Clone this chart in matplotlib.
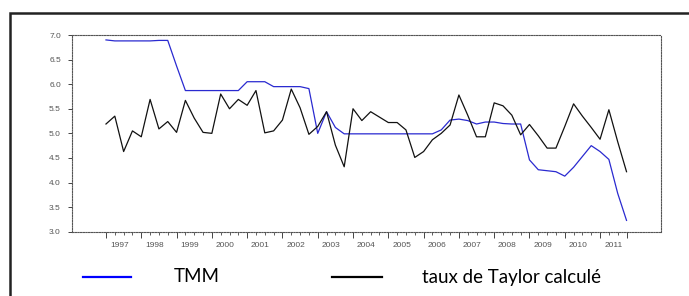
import numpy as np
import matplotlib.pyplot as plt
from matplotlib.patches import Rectangle

# données trimestrielles 1997T1 - 2011T4
start_year = 1997
tmm = [6.90, 6.88, 6.88, 6.88, 6.88, 6.88, 6.89, 6.89,
       6.37, 5.87, 5.87, 5.87, 5.87, 5.87, 5.87, 5.87,
       6.05, 6.05, 6.05, 5.95, 5.95, 5.95, 5.95, 5.91,
       5.00, 5.44, 5.12, 4.99, 4.99, 4.99, 4.99, 4.99,
       4.99, 4.99, 4.99, 4.99, 4.99, 4.99, 5.07, 5.27,
       5.29, 5.26, 5.19, 5.23, 5.23, 5.20, 5.19, 5.19,
       4.46, 4.26, 4.24, 4.22, 4.13, 4.31, 4.53, 4.75,
       4.63, 4.47, 3.78, 3.23]
taylor = [5.19, 5.35, 4.63, 5.05, 4.93, 5.69, 5.09, 5.24,
          5.02, 5.67, 5.31, 5.02, 5.00, 5.80, 5.50, 5.69,
          5.57, 5.87, 5.01, 5.05, 5.27, 5.90, 5.52, 4.98,
          5.14, 5.44, 4.76, 4.32, 5.50, 5.26, 5.44, 5.33,
          5.22, 5.22, 5.07, 4.51, 4.63, 4.87, 5.00, 5.17,
          5.78, 5.37, 4.93, 4.93, 5.62, 5.56, 5.37, 4.97,
          5.18, 4.95, 4.70, 4.70, 5.14, 5.60, 5.35, 5.12,
          4.88, 5.48, 4.83, 4.22]
years = list(range(1997, 2012))
yticks = [3.0, 3.5, 4.0, 4.5, 5.0, 5.5, 6.0, 6.5, 7.0]

x = start_year + np.arange(len(tmm)) / 4.0

fig = plt.figure(figsize=(6.89, 2.96), dpi=100)
ax = fig.add_axes([72/689, 1-231.7/296, (661-72)/689, (231.7-35)/296])

ax.plot(x, tmm, color='#2a2ad0', lw=0.9)
ax.plot(x, taylor, color='#111111', lw=0.9)

ax.set_xlim(1996.037, 2012.727)
ax.set_ylim(3, 7)

# cadre en pointillés
for s in ax.spines.values():
    s.set_linestyle((0, (1.2, 1.2)))
    s.set_linewidth(0.8)
    s.set_color('#555555')

ax.set_yticks(yticks)
ax.set_yticklabels(['%.1f' % v for v in yticks], fontsize=6, color='#555555',
                   family='Liberation Sans')
ax.tick_params(axis='y', length=3, width=0.7, color='#444444', pad=5)

# graduations annuelles / trimestrielles, libellés au milieu de l'année
ax.set_xticks(years + [2012 - 0.25])
ax.set_xticks(start_year + np.arange(len(tmm)) / 4.0, minor=True)
ax.set_xticklabels([])
ax.tick_params(axis='x', which='major', length=4, width=0.7, color='#444444')
ax.tick_params(axis='x', which='minor', length=2, width=0.6, color='#444444')
for yr in years:
    ax.text(yr + 0.375, -0.05, str(yr), transform=ax.get_xaxis_transform(),
            ha='center', va='top', fontsize=6, color='#555555', family='Liberation Sans')

# cadre extérieur
fig.patches.append(Rectangle((10/689, -0.2), 1.2, 1.2 - 13/296, transform=fig.transFigure,
                             fill=False, lw=1.8, edgecolor='#222222'))

# légende
ly = 1 - 277/296
fig.add_artist(plt.Line2D([83/689, 131/689], [ly, ly], color='#0000ff', lw=1.6))
fig.add_artist(plt.Line2D([332/689, 382/689], [ly, ly], color='#000000', lw=1.6))
fig.text(197/689, ly, 'TMM', ha='center', va='center', fontsize=13.5, family='Lato')
fig.text(422/689, ly, 'taux de Taylor calculé', ha='left', va='center', fontsize=13.5,
         family='Lato')

fig.savefig('out.png', dpi=100)
